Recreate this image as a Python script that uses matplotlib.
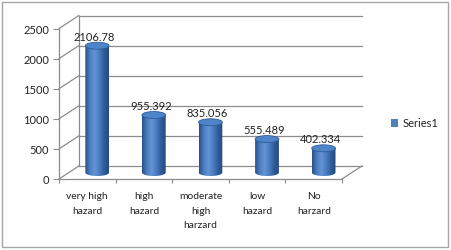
import numpy as np
import matplotlib
matplotlib.use("Agg")
import matplotlib.pyplot as plt
from matplotlib.patches import Ellipse, Rectangle, Patch, PathPatch
from matplotlib.path import Path
from matplotlib.colors import LinearSegmentedColormap

categories = ["very high\nhazard", "high\nhazard", "moderate\nhigh\nharzard", "low\nhazard", "No\nharzard"]
values = [2106.78, 955.392, 835.056, 555.489, 402.334]
yticks = [0, 500, 1000, 1500, 2000, 2500]
series_name = "Series1"

plt.rcParams['font.family'] = ['Lato', 'DejaVu Sans']

W, H = 452, 251
fig = plt.figure(figsize=(W / 100, H / 100), dpi=100)

# geometry (pixels)
px_per_cat = 56.6
px_per_val = 150.5 / 2500
DX = 0.35
DY = 215.0
xmin, xmax = -0.5, 4.5 + DX
ymax = 2500 + DY
left_px, y0_px = 59, 180
ax = fig.add_axes([left_px / W, (H - y0_px) / H,
                   (xmax - xmin) * px_per_cat / W, ymax * px_per_val / H])
ax.set_xlim(xmin, xmax)
ax.set_ylim(0, ymax)
ax.set_facecolor('none')

grid_c = '#8c8c8c'
n = len(values)
# back wall gridlines and side wall diagonals
for v in yticks:
    ax.plot([-0.5 + DX, n - 0.5 + DX], [v + DY, v + DY], color=grid_c, lw=0.9, clip_on=False)
    ax.plot([-0.5, -0.5 + DX], [v, v + DY], color=grid_c, lw=0.9, clip_on=False)
ax.plot([-0.5 + DX, -0.5 + DX], [DY, 2500 + DY], color=grid_c, lw=0.9, clip_on=False)
ax.plot([n - 0.5, n - 0.5 + DX], [0, DY], color=grid_c, lw=0.9, clip_on=False)

# spines / ticks
for s in ['top', 'right']:
    ax.spines[s].set_visible(False)
ax.spines['left'].set_bounds(0, 2500)
ax.spines['bottom'].set_bounds(-0.5, n - 0.5)
for s in ['left', 'bottom']:
    ax.spines[s].set_color(grid_c)
    ax.spines[s].set_linewidth(0.9)
ax.set_yticks(yticks)
ax.set_yticklabels([str(t) for t in yticks])
ax.tick_params(axis='y', length=4, color=grid_c, labelsize=8, pad=3, labelcolor='#222222')
ax.set_xticks(np.arange(-0.5, n, 1.0))
ax.set_xticklabels([])
ax.tick_params(axis='x', which='major', length=3, color=grid_c)
ax.set_xticks(np.arange(n), minor=True)
ax.set_xticklabels(categories, minor=True, fontsize=7.4, linespacing=1.75,
                   color='#222222', multialignment='center')
ax.tick_params(axis='x', which='minor', length=0, pad=9)

# cylinders
cmap = LinearSegmentedColormap.from_list('cyl', ['#274f86', '#4a7dc0', '#6494d4', '#4a7dc0', '#2f5c98', '#234a7e'])
grad = np.linspace(0, 1, 128).reshape(1, -1)
bw = 0.42
eh = 116
for i, v in enumerate(values):
    cx = i + DX / 2
    base = DY / 2
    top = v + DY / 2
    x0, x1 = cx - bw / 2, cx + bw / 2
    im = ax.imshow(grad, extent=[x0, x1, base - eh / 2, top], cmap=cmap,
                   aspect='auto', origin='lower', zorder=3, interpolation='bilinear')
    # clip: rectangle + lower half ellipse at base
    t = np.linspace(np.pi, 2 * np.pi, 40)
    verts = [(x0, top), (x0, base)]
    verts += [(cx + bw / 2 * np.cos(a), base + eh / 2 * np.sin(a)) for a in t]
    verts += [(x1, top), (x0, top)]
    codes = [Path.MOVETO] + [Path.LINETO] * (len(verts) - 2) + [Path.CLOSEPOLY]
    clip = PathPatch(Path(verts, codes), transform=ax.transData, facecolor='none', edgecolor='none')
    ax.add_patch(clip)
    im.set_clip_path(clip)
    ax.add_patch(Ellipse((cx, top), bw, eh, facecolor='#4f84c8', edgecolor='#2f5c98',
                         lw=0.6, zorder=4))
    ax.text(cx - 0.05, top + eh / 2 + 10, f'{v:g}', ha='center', va='bottom',
            fontsize=8, color='#222222', zorder=5)

ax.set_xlim(xmin, xmax)
ax.set_ylim(0, ymax)

# legend
fig.legend(handles=[Patch(facecolor='#4f81bd', edgecolor='none', label=series_name)],
           loc='center left', bbox_to_anchor=(385 / W, 1 - 124 / H), frameon=False,
           handlelength=0.7, handleheight=0.7, handletextpad=0.35, borderpad=0,
           fontsize=8, labelcolor='#222222')

# outer border
fig.add_artist(Rectangle((2 / W, 3 / H), 446 / W, 245 / H, transform=fig.transFigure,
                         facecolor='none', edgecolor='#a6a6a6', lw=1))

fig.savefig('out.png', dpi=100)
